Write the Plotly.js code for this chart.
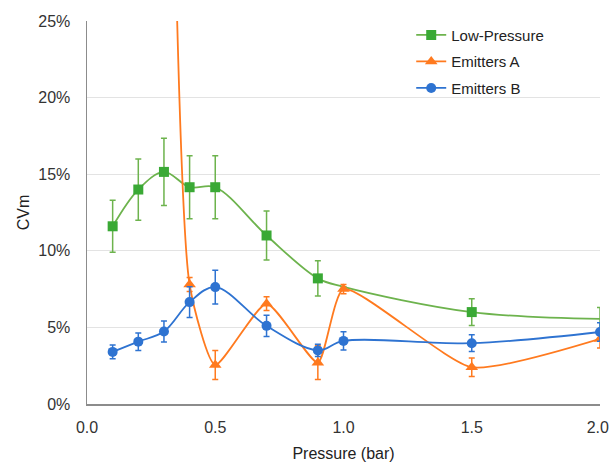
<!DOCTYPE html>
<html>
<head>
<meta charset="utf-8">
<script src="https://cdn.plot.ly/plotly-3.0.1.min.js"></script>
<style>html,body{margin:0;padding:0;background:#fff;}#chart{width:614px;height:466px;}</style>
</head>
<body>
<div id="chart"></div>
<script>
// Pressure (bar) values for each series
const lowX   = [0.1, 0.2, 0.3, 0.4, 0.5, 0.7, 0.9, 1.0, 1.5, 2.0];
const lowY   = [11.6, 14.0, 15.15, 14.15, 14.15, 11.0, 8.2, 7.65, 6.0, 5.55];
const lowErr = [1.7, 2.0, 2.2, 2.05, 2.05, 1.6, 1.15, 0, 0.87, 0.75];
const lowShown = [true, true, true, true, true, true, true, false, true, false];

const aX   = [0.3, 0.4, 0.5, 0.7, 0.9, 1.0, 1.5, 2.0];
const aY   = [75, 7.8, 2.55, 6.55, 2.7, 7.5, 2.4, 4.25];
const aErr = [0, 0.45, 0.95, 0.45, 1.1, 0.3, 0.6, 0.6];

const bX   = [0.1, 0.2, 0.3, 0.4, 0.5, 0.7, 0.9, 1.0, 1.5, 2.0];
const bY   = [3.4, 4.07, 4.73, 6.65, 7.63, 5.1, 3.5, 4.12, 3.97, 4.7];
const bErr = [0.45, 0.57, 0.68, 1.0, 1.1, 0.7, 0.4, 0.6, 0.55, 0.6];

const xTicks = [0.0, 0.5, 1.0, 1.5, 2.0];
const xTickText = ['0.0', '0.5', '1.0', '1.5', '2.0<span style="color:rgba(0,0,0,0)">.</span>'];
const yTicks = [0, 5, 10, 15, 20, 25];

const green = '#3aa935', greenLine = '#6db34d';
const orange = '#ff7a1f', blue = '#2e73d1';

const traces = [
  {
    name: 'Low-Pressure', legendgroup: 'g1', x: lowX, y: lowY, type: 'scatter', mode: 'lines+markers',
    line: {color: greenLine, width: 1.8, shape: 'spline', smoothing: 1},
    marker: {symbol: 'square', size: 10, color: lowShown.map(s => s ? green : 'rgba(0,0,0,0)')},
    error_y: {type: 'data', array: lowErr, visible: true, color: greenLine, thickness: 1.5, width: 3}
  },
  {
    name: 'Emitters A', legendgroup: 'g2', x: aX, y: aY, type: 'scatter', mode: 'lines+markers',
    line: {color: orange, width: 1.8, shape: 'spline', smoothing: 0.55},
    marker: {symbol: 'triangle-up', size: 11, color: orange},
    error_y: {type: 'data', array: aErr, visible: true, color: orange, thickness: 1.5, width: 3}
  },
  {
    name: 'Emitters B', legendgroup: 'g3', x: bX, y: bY, type: 'scatter', mode: 'lines+markers',
    line: {color: blue, width: 1.8, shape: 'spline', smoothing: 1},
    marker: {symbol: 'circle', size: 10, color: blue},
    error_y: {type: 'data', array: bErr, visible: true, color: blue, thickness: 1.5, width: 3}
  }
];

const layout = {
  width: 614, height: 466,
  margin: {l: 87, r: 14, t: 21, b: 62},
  paper_bgcolor: '#fff', plot_bgcolor: '#fff',
  font: {family: 'Liberation Sans, Arial, sans-serif', size: 16, color: '#333'},
  showlegend: true,
  legend: {x: 0.632, y: 1.006, xanchor: 'left', yanchor: 'top', bgcolor: 'rgba(255,255,255,0)',
           font: {size: 15, color: '#222'}, tracegroupgap: 4},
  xaxis: {
    range: [0, 2], tickvals: xTicks, ticktext: xTickText, ticklabeloverflow: 'allow',
    showgrid: false, zeroline: false, showline: true, linecolor: '#8c8c8c', linewidth: 1.5,
    ticks: '', ticklabelstandoff: 8,
    title: {text: 'Pressure (bar)', font: {size: 16, color: '#222'}, standoff: 13}
  },
  yaxis: {
    range: [0, 25], tickvals: yTicks, ticktext: yTicks.map(v => v + '%'),
    showgrid: true, gridcolor: '#e3e3e3', gridwidth: 1.2, zeroline: false,
    showline: true, linecolor: '#8c8c8c', linewidth: 1.5,
    ticks: '', ticklabelstandoff: 12,
    title: {text: 'CVm', font: {size: 16, color: '#222'}, standoff: 4}
  }
};

Plotly.newPlot('chart', traces, layout, {displayModeBar: false, staticPlot: true});
</script>
</body>
</html>
